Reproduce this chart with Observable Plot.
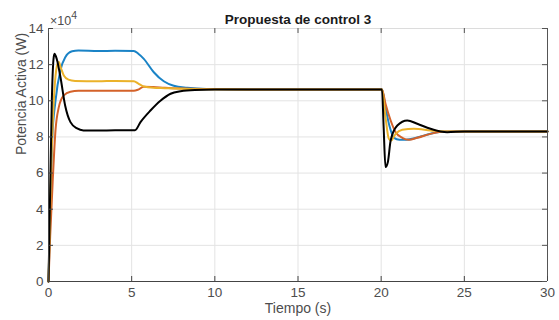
<!DOCTYPE html>
<html>
<head>
<meta charset="utf-8">
<script src="https://cdn.jsdelivr.net/npm/d3@7"></script>
<script src="https://cdn.jsdelivr.net/npm/@observablehq/plot@0.6"></script>
<style>
  html, body { margin: 0; padding: 0; background: #fff; }
  #chart svg { font-family: "Liberation Sans", Arial, sans-serif; }
</style>
</head>
<body>
<div id="chart"></div>
<script>
const title = "Propuesta de control 3";
const xLabel = "Tiempo (s)";
const yLabel = "Potencia Activa (W)";
const xTicks = [0, 5, 10, 15, 20, 25, 30];
const yTicks = [0, 2, 4, 6, 8, 10, 12, 14];

// values in units of 10^4 W
const blueT = [0, 0.1, 0.22, 0.42, 0.72, 1.0, 1.42, 1.8, 3, 4, 5.13, 5.4, 5.73, 6.33, 6.93, 7.53, 8.34, 9.5, 12, 15, 18, 20.05, 20.26, 20.5, 20.77, 21.1, 21.5, 22.17, 22.97, 23.77, 25, 30];
const blueV = [0, 3.5, 7.8, 10.0, 11.7, 12.4, 12.74, 12.78, 12.75, 12.77, 12.76, 12.6, 12.32, 11.58, 11.08, 10.83, 10.72, 10.65, 10.63, 10.63, 10.63, 10.62, 9.64, 8.6, 7.95, 7.85, 7.85, 7.97, 8.18, 8.3, 8.3, 8.3];

const orangeT = [0, 0.1, 0.25, 0.42, 0.62, 0.92, 1.32, 1.8, 3, 4, 5.13, 5.4, 5.73, 6.3, 7, 8, 9.5, 12, 20.05, 20.26, 20.57, 20.87, 21.27, 21.67, 22.17, 22.97, 23.77, 25, 30];
const orangeV = [0, 2.5, 5.5, 8.36, 9.65, 10.3, 10.5, 10.55, 10.55, 10.56, 10.55, 10.62, 10.78, 10.76, 10.72, 10.68, 10.65, 10.63, 10.62, 9.83, 8.91, 8.26, 7.95, 7.84, 7.95, 8.17, 8.3, 8.3, 8.3];

const yellowT = [0, 0.15, 0.35, 0.5, 0.62, 0.75, 0.92, 1.2, 1.6, 3, 4, 5.13, 5.4, 5.73, 6.3, 7, 8, 9.5, 12, 20.05, 20.26, 20.46, 20.6, 20.87, 21.27, 21.97, 22.97, 23.77, 30];
const yellowV = [0, 6, 10.5, 11.9, 12.14, 11.8, 11.4, 11.17, 11.1, 11.08, 11.1, 11.08, 10.95, 10.79, 10.72, 10.7, 10.67, 10.64, 10.63, 10.62, 9.1, 7.9, 7.8, 8.17, 8.4, 8.45, 8.36, 8.3, 8.3];

const blackT = [0, 0.1, 0.2, 0.3, 0.36, 0.5, 0.72, 1.0, 1.32, 1.72, 2.1, 3, 4, 5.2, 5.53, 6.13, 6.73, 7.34, 7.94, 8.8, 10, 20.05, 20.15, 20.26, 20.4, 20.57, 20.97, 21.57, 22.17, 22.97, 23.97, 25, 30];
const blackV = [0, 5, 10, 12.3, 12.6, 12.3, 11.3, 9.74, 8.82, 8.47, 8.36, 8.35, 8.37, 8.37, 8.82, 9.46, 10.0, 10.39, 10.53, 10.6, 10.62, 10.62, 8.5, 6.33, 6.6, 7.8, 8.63, 8.91, 8.73, 8.45, 8.26, 8.3, 8.3];

const seriesNames = ["s1", "s2", "s3", "s4"];
const seriesColors = ["#1a83c6", "#d4622a", "#ebb22a", "#000000"];

function toRows(name, ts, vs) { return ts.map((t, i) => ({ s: name, t, v: vs[i] })); }
const allT = [blueT, orangeT, yellowT, blackT];
const allV = [blueV, orangeV, yellowV, blackV];

const W = 559, H = 320;
const mL = 48, mR = 12, mT = 28, mB = 39;
const fw = W - mL - mR, fh = H - mT - mB;
const font = "Liberation Sans, Arial, sans-serif";

const lineMarks = seriesNames.map((n, i) =>
  Plot.line(toRows(n, allT[i], allV[i]), { x: "t", y: "v", stroke: seriesColors[i], strokeWidth: 2, curve: "monotone-x" })
);

const plot = Plot.plot({
  width: W, height: H,
  marginLeft: mL, marginRight: mR, marginTop: mT, marginBottom: mB,
  style: { fontFamily: font, fontSize: "13.5px", color: "#4d4d4d", background: "#fff" },
  x: { domain: [0, 30], label: null },
  y: { domain: [0, 14], label: null },
  marks: [
    Plot.gridX(xTicks, { stroke: "#e3e3e3", strokeOpacity: 1 }),
    Plot.gridY(yTicks, { stroke: "#e3e3e3", strokeOpacity: 1 }),
    ...lineMarks,
    // box
    Plot.ruleY([14], { stroke: "#dcdcdc" }),
    Plot.ruleX([30], { stroke: "#555" }),
    Plot.ruleX([0], { stroke: "#444" }),
    Plot.ruleY([0], { stroke: "#444" }),
    // inward ticks
    Plot.tickY(yTicks, { y: d => d, stroke: "#444", insetRight: fw - 5 }),
    Plot.tickY(yTicks, { y: d => d, stroke: "#555", insetLeft: fw - 5 }),
    Plot.tickX(xTicks, { x: d => d, stroke: "#444", insetTop: fh - 5 }),
    Plot.tickX(xTicks, { x: d => d, stroke: "#555", insetBottom: fh - 5 }),
    Plot.axisX(xTicks, { tickSize: 0, tickPadding: 6, fontSize: 13.5, fill: "#4d4d4d", label: null }),
    Plot.axisY(yTicks, { tickSize: 0, tickPadding: 5, fontSize: 13.5, fill: "#4d4d4d", label: null }),
    // labels
    Plot.text([title], { frameAnchor: "top", dy: -5, lineAnchor: "bottom", text: d => d, fontWeight: "bold", fontSize: 13.5, fill: "#1a1a1a" }),
    Plot.text([xLabel], { frameAnchor: "bottom", dy: 22, lineAnchor: "top", text: d => d, fontSize: 14, fill: "#4d4d4d" }),
    Plot.text([yLabel], { frameAnchor: "left", dx: -27, rotate: -90, text: d => d, fontSize: 14, fill: "#4d4d4d" })
  ]
});

// exponent label "×10^4"
const svg = d3.select(plot);
const exp = svg.append("text")
  .attr("x", mL + 2).attr("y", mT - 3)
  .attr("text-anchor", "start")
  .attr("font-size", 12.5).attr("fill", "#4d4d4d").attr("font-family", font);
exp.append("tspan").text("\u00d710");
exp.append("tspan").attr("dy", -6).attr("font-size", 10.5).text("4");

document.getElementById("chart").appendChild(plot);
</script>
</body>
</html>
